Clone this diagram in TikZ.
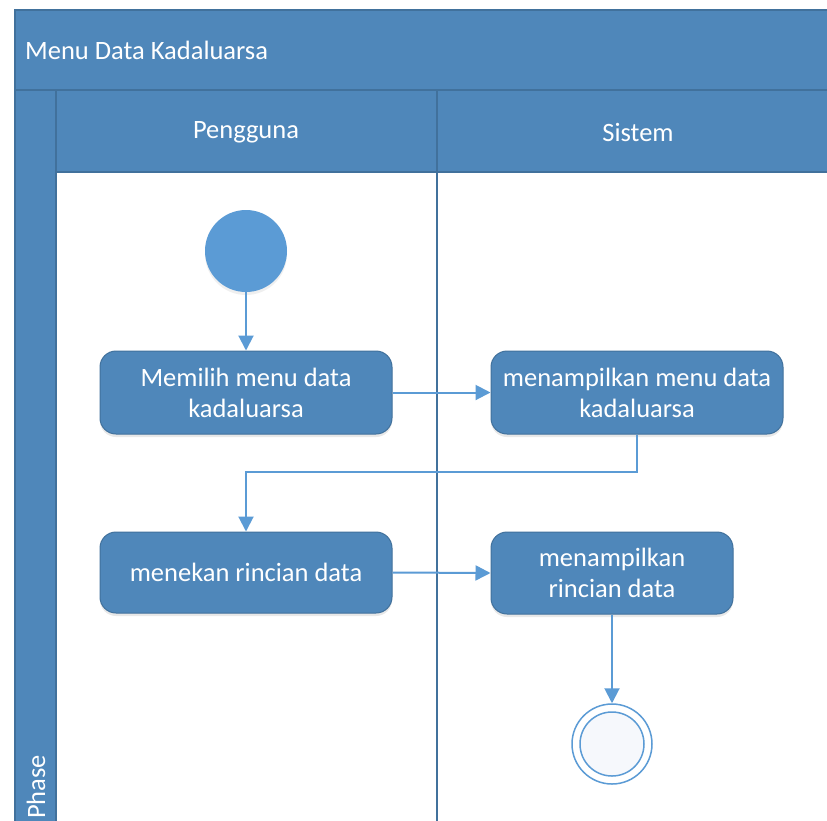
\documentclass[tikz,border=0pt]{standalone}
\usepackage{fontspec}
\setmainfont{Carlito}
\usetikzlibrary{arrows.meta,shadows,calc}
\definecolor{laneblue}{HTML}{4F87BA}
\definecolor{lanedark}{HTML}{41719C}
\definecolor{flowblue}{HTML}{5B9BD5}
\definecolor{endfill}{HTML}{F6F8FC}

\begin{document}
\begin{tikzpicture}[x=1pt,y=-1pt,
  lbl/.style={text=white,font=\fontsize{26.5}{31}\selectfont},
  band/.style={draw=lanedark,line width=1.2pt,fill=laneblue},
  action/.style={draw=lanedark,line width=1pt,fill=laneblue,rounded corners=16pt,
    lbl,align=center,inner sep=0pt,
    drop shadow={opacity=0.18,shadow xshift=0pt,shadow yshift=-3pt}},
  flow/.style={draw=flowblue,line width=2pt,-{Triangle[width=15pt,length=15pt]}}]

\useasboundingbox (0,0) rectangle (827,820);
\clip (0,0) rectangle (827,820);

% swimlane pool: title band, phase column and lane headers
\fill[white] (0,0) rectangle (827,820);
\draw[band] (15,10) rectangle (845,90);
\draw[band] (15,90) rectangle (56,830);
\draw[band] (56,90) rectangle (437,172);
\draw[band] (437,90) rectangle (845,172);
\draw[lanedark,line width=1.2pt] (437,172) -- (437,830);
\draw[lanedark,line width=1.2pt] (15,10) -- (15,830);

\node[lbl,anchor=west,inner sep=0pt] (title) at (25,50) {Menu Data Kadaluarsa};
\node[lbl] (pengguna) at (246,132) {Pengguna};
\node[lbl] (sistem) at (638,132) {Sistem};
\node[lbl,rotate=90,anchor=west,inner sep=0pt] (phase) at (36,819) {Phase};

% initial and final states
\node[circle,fill=flowblue,minimum size=82pt,inner sep=0pt,
  drop shadow={opacity=0.12,shadow xshift=0pt,shadow yshift=-3pt}] (start) at (246,251) {};
\node[circle,draw=flowblue,line width=1.5pt,fill=white,minimum size=80pt,inner sep=0pt] (end) at (612,744) {};
\node[circle,draw=flowblue,line width=1.5pt,fill=endfill,minimum size=64pt,inner sep=0pt] (endin) at (612,744) {};

% actions
\node[action,minimum width=292pt,minimum height=83pt] (b1) at (246,392.5) {Memilih menu data\\kadaluarsa};
\node[action,minimum width=292pt,minimum height=83pt] (b2) at (637,392.5) {menampilkan menu data\\kadaluarsa};
\node[action,minimum width=292pt,minimum height=81pt] (b3) at (246,572.5) {menekan rincian data};
\node[action,minimum width=242pt,minimum height=82pt] (b4) at (612,573) {menampilkan\\rincian data};

% control flow
\draw[flow] (start.south) -- (b1.north);
\draw[flow] (b1.east) -- (b2.west);
\draw[flow] (b2.south) -- ($(b2.south)+(0,37)$) -| (b3.north);
\draw[flow] (b3.east) -- (b4.west);
\draw[flow] (b4.south) -- (end.north);
\end{tikzpicture}
\end{document}
